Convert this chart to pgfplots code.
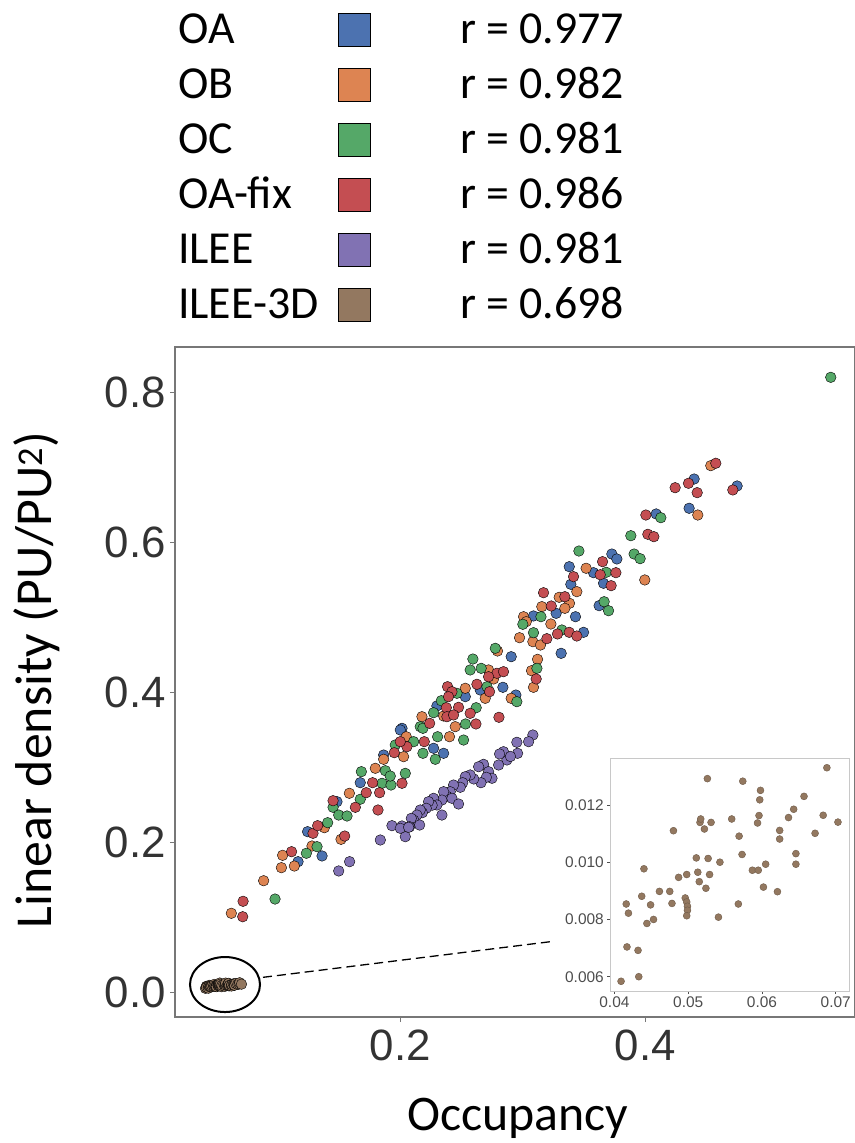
\documentclass[border=0pt]{standalone}
\usepackage{fontspec}
\setmainfont{Carlito}
\newfontfamily\arialfont{Liberation Sans}
\usepackage{pgfplots}
\pgfplotsset{compat=1.18}
\definecolor{cA}{HTML}{4C72B0}
\definecolor{cB}{HTML}{DD8452}
\definecolor{cC}{HTML}{55A868}
\definecolor{cD}{HTML}{C44E52}
\definecolor{cE}{HTML}{8172B3}
\definecolor{cF}{HTML}{937860}
\definecolor{tickgray}{HTML}{333333}
\definecolor{framegray}{HTML}{777777}
\definecolor{insetgray}{HTML}{C8C8C8}
\definecolor{insettext}{HTML}{4D4D4D}

\pgfplotstableread{
x y
0.0409 0.00584
0.0416 0.00854
0.0419 0.00822
0.0417 0.00704
0.0432 0.00692
0.0433 0.00600
0.0440 0.00977
0.0437 0.00881
0.0444 0.00786
0.0449 0.00851
0.0453 0.00800
0.0461 0.00898
0.0475 0.00898
0.0478 0.00856
0.0480 0.01110
0.0487 0.00947
0.0498 0.00957
0.0496 0.00875
0.0498 0.00861
0.0499 0.00846
0.0499 0.00832
0.0498 0.00813
0.0511 0.01015
0.0513 0.00965
0.0515 0.00932
0.0516 0.01139
0.0517 0.01151
0.0522 0.01116
0.0524 0.00909
0.0527 0.01013
0.0526 0.01292
0.0529 0.00957
0.0531 0.01139
0.0541 0.00808
0.0543 0.01000
0.0559 0.01151
0.0568 0.00854
0.0569 0.01091
0.0573 0.01027
0.0574 0.01283
0.0587 0.00972
0.0595 0.00972
0.0594 0.01137
0.0596 0.01163
0.0597 0.01218
0.0598 0.01251
0.0602 0.00913
0.0605 0.00993
0.0621 0.00897
0.0624 0.01111
0.0624 0.01081
0.0636 0.01156
0.0643 0.01185
0.0646 0.01030
0.0646 0.00993
0.0657 0.01230
0.0672 0.01101
0.0683 0.01164
0.0688 0.01330
0.0703 0.01140
}\dataF

\pgfplotstableread{
x y
0.4400 0.6849
0.4751 0.6756
0.4359 0.6459
0.4090 0.6383
0.3728 0.5849
0.3769 0.5783
0.3380 0.5680
0.3578 0.5600
0.3393 0.5445
0.3660 0.5459
0.3624 0.5160
0.3431 0.5013
0.3497 0.4805
0.3088 0.5023
0.3273 0.5058
0.3314 0.4525
0.2906 0.4480
0.2838 0.4072
0.2653 0.4036
0.2944 0.3969
0.2531 0.3947
0.2299 0.3823
0.2354 0.3192
0.2272 0.3259
0.2014 0.3525
0.1165 0.1747
0.1361 0.1823
0.1243 0.2147
0.1483 0.2547
0.1673 0.2800
0.1864 0.3169
0.2000 0.3503
}\dataA

\pgfplotstableread{
x y
0.4536 0.7027
0.4430 0.6369
0.3997 0.5503
0.3518 0.5659
0.3442 0.5347
0.3382 0.5192
0.3344 0.5125
0.3298 0.5272
0.3156 0.5147
0.3007 0.5013
0.3029 0.4947
0.3230 0.4916
0.2974 0.4733
0.3083 0.4680
0.3145 0.4636
0.3121 0.4445
0.3072 0.4293
0.3088 0.4072
0.2794 0.4556
0.2721 0.4303
0.2762 0.4183
0.2531 0.4059
0.2694 0.3925
0.2906 0.3925
0.2354 0.3689
0.2449 0.3547
0.2177 0.3680
0.2402 0.3413
0.2027 0.3147
0.2049 0.3413
0.0620 0.1059
0.0884 0.1493
0.1029 0.1667
0.1135 0.1689
0.1039 0.1832
0.1279 0.1956
0.1516 0.2045
0.1380 0.2200
0.1584 0.2659
0.1796 0.2992
0.1864 0.3112
}\dataB

\pgfplotstableread{
x y
0.5516 0.8205
0.4128 0.6333
0.3883 0.6093
0.3910 0.5849
0.3959 0.5787
0.3459 0.5889
0.3682 0.5605
0.3665 0.5213
0.3701 0.5093
0.3320 0.4836
0.3149 0.5013
0.3001 0.4912
0.3088 0.4800
0.3116 0.4325
0.2776 0.4592
0.2593 0.4449
0.2571 0.4303
0.2661 0.4325
0.2708 0.4080
0.2952 0.3880
0.2335 0.3893
0.2463 0.3992
0.2620 0.3800
0.2272 0.3733
0.2533 0.3583
0.2305 0.3413
0.2517 0.3369
0.2286 0.3112
0.2185 0.3192
0.2163 0.3547
0.2041 0.2925
0.2109 0.3347
0.0977 0.1249
0.1233 0.1859
0.1320 0.1947
0.1407 0.2267
0.1451 0.2472
0.1497 0.2369
0.1565 0.2356
0.1673 0.2579
0.1851 0.2792
0.1924 0.2769
0.1682 0.2947
0.1878 0.2960
0.1918 0.2889
0.1959 0.3303
0.2185 0.3525
}\dataC

\pgfplotstableread{
x y
0.4577 0.7059
0.4354 0.6792
0.4245 0.6733
0.4425 0.6667
0.4716 0.6703
0.4006 0.6369
0.4022 0.6112
0.4071 0.6080
0.3652 0.5747
0.3633 0.5573
0.3761 0.5600
0.3415 0.5547
0.3722 0.5427
0.3344 0.5280
0.3380 0.4805
0.3442 0.4756
0.3170 0.5333
0.3233 0.5156
0.3197 0.4720
0.3284 0.4783
0.3110 0.4183
0.2789 0.4259
0.2843 0.4280
0.2721 0.4213
0.2626 0.4112
0.2729 0.4013
0.2806 0.3672
0.2386 0.4080
0.2422 0.4013
0.2394 0.3947
0.2376 0.3800
0.2476 0.3805
0.2381 0.3680
0.2571 0.3725
0.2435 0.3703
0.2618 0.3583
0.2240 0.3592
0.2014 0.2792
0.2054 0.3280
0.2196 0.3347
0.2000 0.3347
0.1951 0.3200
0.0713 0.1013
0.0716 0.1219
0.1112 0.1880
0.1546 0.2089
0.1287 0.2125
0.1325 0.2227
0.1633 0.2472
0.1818 0.2436
0.1451 0.2560
0.1722 0.2667
0.1774 0.2800
0.1831 0.2667
}\dataD

\pgfplotstableread{
x y
0.3083 0.3436
0.3048 0.3347
0.2952 0.3339
0.2958 0.3192
0.2871 0.3103
0.2843 0.3213
0.2811 0.3183
0.2803 0.3036
0.2900 0.3150
0.2680 0.3045
0.2640 0.3013
0.2721 0.2947
0.2749 0.2859
0.2703 0.2872
0.2659 0.2800
0.2600 0.2850
0.2571 0.2903
0.2531 0.2880
0.2510 0.2800
0.2490 0.2739
0.2435 0.2769
0.2408 0.2680
0.2380 0.2620
0.2354 0.2680
0.2340 0.2569
0.2422 0.2592
0.2476 0.2516
0.2272 0.2592
0.2299 0.2503
0.2260 0.2500
0.2231 0.2547
0.2212 0.2459
0.2180 0.2400
0.2163 0.2436
0.2136 0.2369
0.2340 0.2369
0.2110 0.2300
0.2090 0.2325
0.2158 0.2236
0.2076 0.2213
0.2014 0.2223
0.2041 0.2080
0.1932 0.2227
0.2000 0.2192
0.2068 0.2205
0.1837 0.2036
0.1586 0.1747
0.1497 0.1623
}\dataE

\begin{document}
\begin{tikzpicture}
\useasboundingbox (0,0) rectangle (855bp,-1143bp);

% main axis
\begin{axis}[
  at={(175bp,-1017bp)}, anchor=south west,
  scale only axis, width=680bp, height=670bp,
  xmin=0.016, xmax=0.5714, ymin=-0.0324, ymax=0.8609,
  axis line style={draw=framegray, line width=1.2bp},
  xtick={0.2,0.4}, ytick={0,0.2,0.4,0.6,0.8},
  xtick pos=bottom, ytick pos=left,
  tick align=outside, major tick length=5bp,
  tick style={draw=framegray, line width=1bp},
  ticklabel style={font=\arialfont\fontsize{44}{44}\selectfont, text=tickgray, inner sep=0pt},
  xticklabel={\pgfmathprintnumber[assume math mode=true,fixed,fixed zerofill,precision=1]{\tick}},
  yticklabel={\pgfmathprintnumber[assume math mode=true,fixed,fixed zerofill,precision=1]{\tick}},
  xticklabel style={yshift=-8bp},
  yticklabel style={xshift=-4bp},
  every axis plot/.append style={only marks, mark=*, mark size=5.3bp,
     mark options={draw=black!85, line width=1.3bp}},
]
\addplot[mark options={fill=cA}] table {\dataA};
\addplot[mark options={fill=cB}] table {\dataB};
\addplot[mark options={fill=cC}] table {\dataC};
\addplot[mark options={fill=cD}] table {\dataD};
\addplot[mark options={fill=cE}] table {\dataE};
\addplot[mark options={fill=cF}] table {\dataF};
\end{axis}

% inset
\begin{axis}[
  at={(610bp,-991bp)}, anchor=south west,
  scale only axis, width=239bp, height=233bp,
  xmin=0.0394, xmax=0.0718, ymin=0.0055, ymax=0.01364,
  axis line style={draw=insetgray, line width=1bp},
  axis background/.style={fill=white},
  xtick={0.04,0.05,0.06,0.07}, ytick={0.006,0.008,0.010,0.012},
  xtick pos=bottom, ytick pos=left,
  tick align=outside, major tick length=3bp,
  tick style={draw=insettext, line width=0.6bp},
  ticklabel style={font=\arialfont\fontsize{15.5}{15.5}\selectfont, text=insettext, inner sep=0pt},
  xticklabel={\pgfmathprintnumber[assume math mode=true,fixed,fixed zerofill,precision=2]{\tick}},
  yticklabel={\pgfmathprintnumber[assume math mode=true,fixed,fixed zerofill,precision=3]{\tick}},
  xticklabel style={yshift=-3bp},
  yticklabel style={xshift=-3bp},
  scaled ticks=false,
]
\addplot[only marks, mark=*, mark size=3.5bp, mark options={fill=cF, draw=cF!75!black, line width=0.4bp}] table {\dataF};
\end{axis}

% overlay: legend, labels, annotation
\begin{axis}[
  at={(0bp,0bp)}, anchor=north west,
  scale only axis, width=855bp, height=1143bp,
  xmin=0, xmax=855, ymin=0, ymax=1143, y dir=reverse,
  hide axis, clip=false,
  every axis plot/.append style={only marks, mark=square*, mark size=16.3bp,
     mark options={draw=black, line width=2.6bp}},
]
\addplot[mark options={fill=cA}] coordinates {(354,29.5)};
\addplot[mark options={fill=cB}] coordinates {(354,84.5)};
\addplot[mark options={fill=cC}] coordinates {(354,139.5)};
\addplot[mark options={fill=cD}] coordinates {(354,194.5)};
\addplot[mark options={fill=cE}] coordinates {(354,249.5)};
\addplot[mark options={fill=cF}] coordinates {(354,304.5)};
\begin{scope}[every node/.style={anchor=base west, inner sep=0pt, font=\fontsize{46}{46}\selectfont}]
\node at (axis cs:178,43) {OA};
\node at (axis cs:178,98) {OB};
\node at (axis cs:178,153) {OC};
\node at (axis cs:178,208) {OA-fix};
\node at (axis cs:178,263) {ILEE};
\node at (axis cs:178,318) {ILEE-3D};
\node at (axis cs:460,43) {r = 0.977};
\node at (axis cs:460,98) {r = 0.982};
\node at (axis cs:460,153) {r = 0.981};
\node at (axis cs:460,208) {r = 0.986};
\node at (axis cs:460,263) {r = 0.981};
\node at (axis cs:460,318) {r = 0.698};
\end{scope}
\node[anchor=base, inner sep=0pt, font=\fontsize{50}{50}\selectfont] at (axis cs:518,1130) {Occupancy};
\node[rotate=90, inner sep=0pt, font=\fontsize{52}{52}\selectfont] at (axis cs:37,680) {Linear density (PU/PU\textsuperscript{2})};
\draw[black, line width=2bp] (axis cs:225,984.5) ellipse [x radius=35bp, y radius=27.5bp];
\draw[black, line width=1.3bp, dash pattern=on 9bp off 5bp] (axis cs:263,977.3) -- (axis cs:550,941.7);
\end{axis}
\end{tikzpicture}
\end{document}
